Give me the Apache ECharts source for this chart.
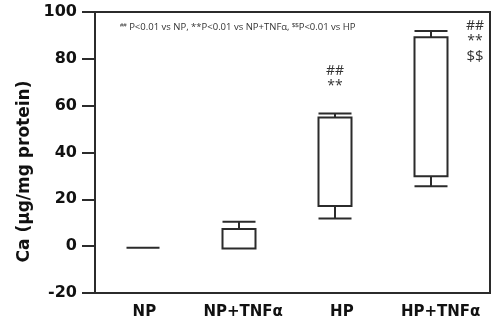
<!DOCTYPE html>
<html><head><meta charset="utf-8">
<style>html,body{margin:0;padding:0;background:#fff}#c{width:491px;height:326px}</style>
<script src="https://cdn.jsdelivr.net/npm/echarts@6/dist/echarts.min.js"></script>
</head><body><div id="c"></div>
<script>
// Data
const categories = ['NP', 'NP+TNFα', 'HP', 'HP+TNFα'];
// box statistics per group
const boxMin = [-0.7, -1.0, 11.8, 25.6];
const boxQ1  = [-0.7, -1.0, 17.2, 29.9];
const boxQ3  = [-0.7, 7.3, 55.0, 89.2];
const boxMax = [-0.7, 10.4, 56.7, 91.9];
const yTicks = [-20, 0, 20, 40, 60, 80, 100];

// [min, Q1, median(=Q1, hidden on box edge), Q3, max]
const boxData = categories.map((c, i) => [boxMin[i], boxQ1[i], boxQ1[i], boxQ3[i], boxMax[i]]);

const chart = echarts.init(document.getElementById('c'), null, {renderer: 'canvas'});
const axisColor = '#2b2b2b';
const yMin = yTicks[0], yMax = yTicks[yTicks.length - 1];
chart.setOption({
  animation: false,
  grid: [
    {left: 95, right: 1, top: 12, bottom: 33, show: true, borderColor: axisColor, borderWidth: 2, backgroundColor: 'transparent'},
    {left: 95, right: 12, top: 12, bottom: 33}
  ],
  xAxis: [{
    gridIndex: 0, type: 'category', data: categories,
    axisLine: {onZero: false, lineStyle: {color: axisColor, width: 2}},
    axisTick: {show: false},
    axisLabel: {interval: 0, color: '#111', fontFamily: 'DejaVu Sans', fontWeight: 'bold', fontSize: 15, margin: 12}
  }, {
    gridIndex: 1, type: 'category', data: categories, show: false
  }],
  yAxis: [{
    gridIndex: 0, type: 'value', min: yMin, max: yMax, interval: 20,
    name: 'Ca (μg/mg protein)', nameLocation: 'middle', nameGap: 60,
    nameTextStyle: {color: '#111', fontFamily: 'DejaVu Sans', fontWeight: 'bold', fontSize: 17, padding: [0, 0, 0, -38]},
    axisLine: {show: true, onZero: false, lineStyle: {color: axisColor, width: 2}},
    axisTick: {show: true, inside: false, length: 13, lineStyle: {color: axisColor, width: 2}},
    splitLine: {show: false},
    axisLabel: {color: '#111', fontFamily: 'DejaVu Sans', fontWeight: 'bold', fontSize: 16, margin: 18}
  }, {
    gridIndex: 1, type: 'value', min: yMin, max: yMax, interval: 20, show: false, splitLine: {show: false}
  }],
  series: [{
    type: 'boxplot', xAxisIndex: 1, yAxisIndex: 1, data: boxData, boxWidth: [33, 33],
    itemStyle: {color: '#fff', borderColor: axisColor, borderWidth: 2},
    emphasis: {disabled: true}
  }],
  graphic: [
    {type: 'text', left: 120, top: 22, style: {
      text: '{s|##} P<0.01 vs NP, **P<0.01 vs NP+TNFα, {s|$$}P<0.01 vs HP',
      font: '9.5px "Open Sans"', fill: '#333',
      rich: {s: {fontSize: 6, verticalAlign: 'top', fill: '#333', padding: [0,0,3,0]}}
    }},
    {type: 'text', x: 335, y: 71, style: {text: '##', font: '14px "Open Sans"', fill: '#333', align: 'center', verticalAlign: 'middle'}},
    {type: 'text', x: 335, y: 86, style: {text: '**', font: '14px "Open Sans"', fill: '#333', align: 'center', verticalAlign: 'middle'}},
    {type: 'text', x: 475, y: 26, style: {text: '##', font: '14px "Open Sans"', fill: '#333', align: 'center', verticalAlign: 'middle'}},
    {type: 'text', x: 475, y: 41, style: {text: '**', font: '14px "Open Sans"', fill: '#333', align: 'center', verticalAlign: 'middle'}},
    {type: 'text', x: 475, y: 57, style: {text: '$$', font: '15px "Open Sans"', fill: '#333', align: 'center', verticalAlign: 'middle'}}
  ]
});
</script></body></html>
